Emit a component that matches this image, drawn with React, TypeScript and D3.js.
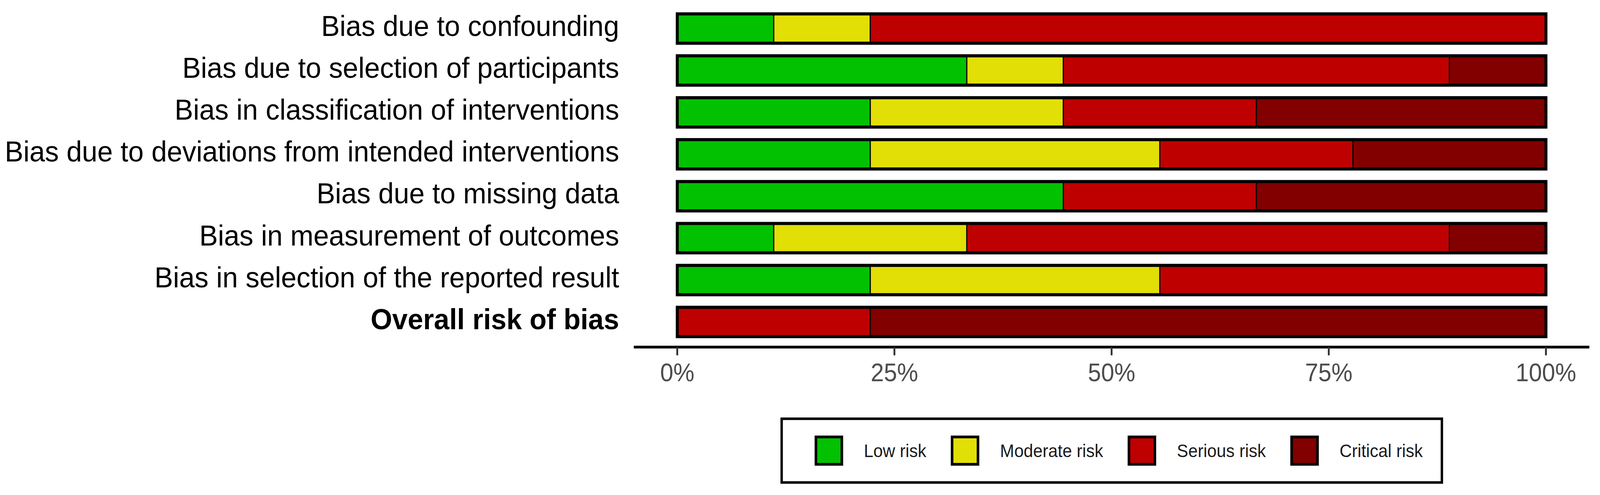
import React, { useEffect, useState } from "react";
import * as d3 from "d3";

const domains = [
  "Bias due to confounding",
  "Bias due to selection of participants",
  "Bias in classification of interventions",
  "Bias due to deviations from intended interventions",
  "Bias due to missing data",
  "Bias in measurement of outcomes",
  "Bias in selection of the reported result",
  "Overall risk of bias",
];

// number of studies (out of 9) per judgement
const lowRisk = [1, 3, 2, 2, 4, 1, 2, 0];
const moderateRisk = [1, 1, 2, 3, 0, 2, 3, 0];
const seriousRisk = [7, 4, 2, 2, 2, 5, 4, 2];
const criticalRisk = [0, 1, 3, 2, 3, 1, 0, 7];

const judgements = ["Low risk", "Moderate risk", "Serious risk", "Critical risk"];
const judgementColors = ["#02C100", "#E2DF07", "#BF0000", "#820000"];
const tickValues = [0, 0.25, 0.5, 0.75, 1];

const W = 4321;
const H = 1266;
const FONT = '"Liberation Sans", Arial, Helvetica, sans-serif';

function measure(text: string, size: number) {
  const c = document.createElement("canvas").getContext("2d");
  if (!c) return text.length * size * 0.5;
  c.font = `${size}px "Liberation Sans", Arial, sans-serif`;
  return c.measureText(text).width;
}

export default function App() {
  const [vp, setVp] = useState({ w: window.innerWidth, h: window.innerHeight });
  useEffect(() => {
    document.body.style.margin = "0";
    document.body.style.overflow = "hidden";
    const f = () => setVp({ w: window.innerWidth, h: window.innerHeight });
    window.addEventListener("resize", f);
    return () => window.removeEventListener("resize", f);
  }, []);

  const series = [lowRisk, moderateRisk, seriousRisk, criticalRisk];
  const rows = domains.map((d, i) => {
    const obj: any = { domain: d };
    judgements.forEach((j, k) => (obj[j] = series[k][i]));
    return obj;
  });
  const stacked = d3.stack<any>().keys(judgements).offset(d3.stackOffsetExpand)(rows);

  const x = d3.scaleLinear().domain([0, 1]).range([1829, 4175]);
  const [px0, px1] = [x(-0.05), x(1.05)];
  const y = d3
    .scaleBand<string>()
    .domain(domains)
    .range([8.7, 887.8])
    .paddingInner(0.3)
    .paddingOuter(0.25);
  const color = d3.scaleOrdinal<string, string>().domain(judgements).range(judgementColors);
  const axisY = 887.8;

  const legFont = 46;
  const keySize = 70;
  const legBox = { x: 2111, y: 1071, w: 3894 - 2111, h: 1234 - 1071 };
  const legCy = legBox.y + legBox.h / 2;
  const items: { key: string; kx: number; tx: number }[] = [];
  let cursor = legBox.x + 89;
  judgements.forEach((j) => {
    const kx = cursor;
    const tx = kx + keySize + 63;
    items.push({ key: j, kx, tx });
    cursor = tx + measure(j, legFont) + 66;
  });

  return (
    <svg
      width={vp.w}
      height={vp.h}
      viewBox={`0 0 ${W} ${H}`}
      preserveAspectRatio="none"
      style={{ position: "absolute", left: 0, top: 0, display: "block", background: "#fff" }}
      fontFamily={FONT}
    >
      <rect x={0} y={0} width={W} height={H} fill="#fff" />
      {domains.map((d, i) => (
        <text
          key={d}
          x={1672}
          y={(y(d) as number) + y.bandwidth() / 2 + 18.5}
          textAnchor="end"
          fontSize={75}
          fontWeight={i === domains.length - 1 ? "bold" : "normal"}
          fill="#000"
        >
          {d}
        </text>
      ))}
      {stacked.map((s) => (
        <g key={s.key} fill={color(s.key)}>
          {s.map((seg, i) =>
            seg[1] - seg[0] > 0 ? (
              <rect
                key={i}
                x={x(seg[0])}
                width={x(seg[1]) - x(seg[0])}
                y={y(domains[i])}
                height={y.bandwidth()}
                stroke="#000"
                strokeWidth={3}
              />
            ) : null
          )}
        </g>
      ))}
      {domains.map((d) => (
        <rect
          key={d}
          x={x(0)}
          width={x(1) - x(0)}
          y={y(d)}
          height={y.bandwidth()}
          fill="none"
          stroke="#000"
          strokeWidth={8}
        />
      ))}
      <line x1={px0} x2={px1} y1={axisY} y2={axisY} stroke="#000" strokeWidth={7} />
      {tickValues.map((t) => (
        <g key={t}>
          <line x1={x(t)} x2={x(t)} y1={axisY} y2={axisY + 21} stroke="#333" strokeWidth={5} />
          <text x={x(t)} y={975} textAnchor="middle" fontSize={64} fill="#4D4D4D">
            {d3.format(".0%")(t)}
          </text>
        </g>
      ))}
      <rect
        x={legBox.x}
        y={legBox.y}
        width={legBox.w}
        height={legBox.h}
        fill="#fff"
        stroke="#000"
        strokeWidth={6.5}
      />
      {items.map((it) => (
        <g key={it.key}>
          <rect
            x={it.kx + 3.5}
            y={legCy - keySize / 2}
            width={keySize}
            height={keySize}
            fill={color(it.key)}
            stroke="#000"
            strokeWidth={7}
          />
          <text x={it.tx} y={legCy + 16.5} fontSize={legFont} fill="#1a1a1a">
            {it.key}
          </text>
        </g>
      ))}
    </svg>
  );
}
